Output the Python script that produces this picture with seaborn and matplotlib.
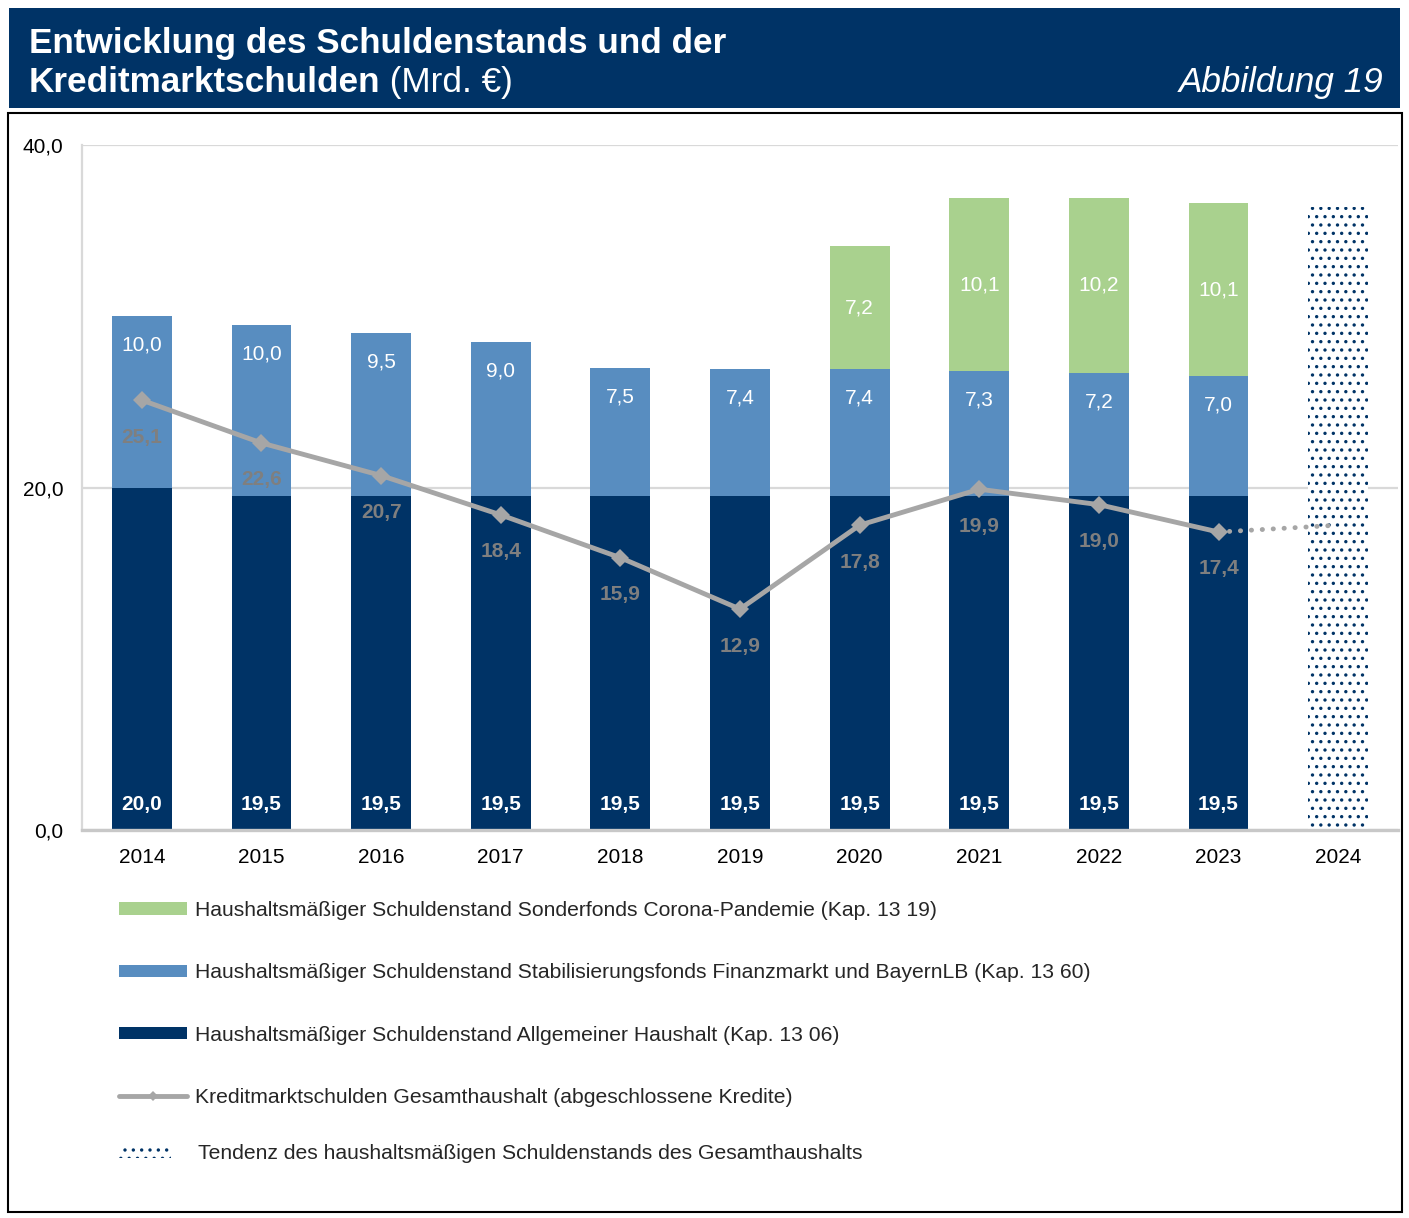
import numpy as np
import pandas as pd
import matplotlib
matplotlib.use("Agg")
import matplotlib.pyplot as plt
import seaborn as sns
from matplotlib.patches import Rectangle, Patch
from matplotlib.lines import Line2D
from matplotlib.ticker import FuncFormatter

# --- data (Mrd. €) ---
years = ["2014", "2015", "2016", "2017", "2018", "2019", "2020", "2021", "2022", "2023", "2024"]
allgemein = [20.0, 19.5, 19.5, 19.5, 19.5, 19.5, 19.5, 19.5, 19.5, 19.5]
stabi = [10.0, 10.0, 9.5, 9.0, 7.5, 7.4, 7.4, 7.3, 7.2, 7.0]
corona = [0.0, 0.0, 0.0, 0.0, 0.0, 0.0, 7.2, 10.1, 10.2, 10.1]
kredit = [25.1, 22.6, 20.7, 18.4, 15.9, 12.9, 17.8, 19.9, 19.0, 17.4]
tendenz_2024 = 36.4
kredit_tendenz_2024 = 17.8

legend_labels = [
    "Haushaltsmäßiger Schuldenstand Sonderfonds Corona-Pandemie (Kap. 13 19)",
    "Haushaltsmäßiger Schuldenstand Stabilisierungsfonds Finanzmarkt und BayernLB (Kap. 13 60)",
    "Haushaltsmäßiger Schuldenstand Allgemeiner Haushalt (Kap. 13 06)",
    "Kreditmarktschulden Gesamthaushalt (abgeschlossene Kredite)",
    "Tendenz des haushaltsmäßigen Schuldenstands des Gesamthaushalts",
]

NAVY = "#003366"
BLUE = "#588DC0"
GREEN = "#A9D18E"
GREY = "#A6A6A6"
LABEL_GREY = "#7F7F7F"

sns.set_theme(style="white")
plt.rcParams["font.family"] = ["Liberation Sans", "DejaVu Sans"]
plt.rcParams["hatch.linewidth"] = 1.2
FS = 15
LFS = 15.2

df = pd.DataFrame({
    "year": years[:10],
    "allgemein": allgemein,
    "stabi": stabi,
    "corona": corona,
    "kredit": kredit,
})
df["level2"] = df["allgemein"] + df["stabi"]
df["total"] = df["level2"] + df["corona"]
fmt = lambda v: f"{v:.1f}".replace(".", ",")

fig = plt.figure(figsize=(14.09, 12.18), dpi=100)
ax = fig.add_axes([82 / 1409, 1 - 830 / 1218, 1316 / 1409, 685 / 1218])

# layered bars (tallest first) to get the stacked look
sns.barplot(data=df, x="year", y="total", order=years, color=GREEN, saturation=1,
            width=0.5, linewidth=0, ax=ax, zorder=2)
sns.barplot(data=df, x="year", y="level2", order=years, color=BLUE, saturation=1,
            width=0.5, linewidth=0, ax=ax, zorder=2)
sns.barplot(data=df, x="year", y="allgemein", order=years, color=NAVY, saturation=1,
            width=0.5, linewidth=0, ax=ax, zorder=2)
# 2024 tendency bar
sns.barplot(x=["2024"], y=[tendenz_2024], order=years, color="white", saturation=1,
            width=0.5, linewidth=0, edgecolor=NAVY, hatch="..", ax=ax, zorder=2)

# Kreditmarktschulden line
xs = np.arange(len(kredit))
sns.lineplot(x=xs, y=kredit, color=GREY, lw=3.5, marker="D", markersize=9,
             markeredgewidth=0, ax=ax, zorder=4)
sns.lineplot(x=[xs[-1], xs[-1] + 1], y=[kredit[-1], kredit_tendenz_2024], color=GREY,
             lw=3.5, ax=ax, zorder=3, linestyle=(0, (0.05, 2.2)), dash_capstyle="round")

# value labels
for i, row in df.iterrows():
    ax.annotate(fmt(row["allgemein"]), (i, 0), xytext=(0, 18.7), textcoords="offset points",
                ha="center", va="center", color="white", fontsize=FS, fontweight="bold", zorder=5)
    ax.annotate(fmt(row["stabi"]), (i, row["level2"]), xytext=(0, -20.9), textcoords="offset points",
                ha="center", va="center", color="white", fontsize=FS, zorder=5)
    if row["corona"] > 0:
        ax.annotate(fmt(row["corona"]), (i, row["level2"] + row["corona"] / 2), ha="center",
                    va="center", color="white", fontsize=FS, zorder=5)
    ax.annotate(fmt(row["kredit"]), (i, row["kredit"]), xytext=(0, -26.6), textcoords="offset points",
                ha="center", va="center", color=LABEL_GREY, fontsize=FS, fontweight="bold", zorder=5)

ax.set_xlim(-0.5, 10.5)
ax.set_ylim(0, 40)
ax.set_yticks([0, 20, 40])
ax.yaxis.set_major_formatter(FuncFormatter(lambda v, p: fmt(v)))
ax.set_xlabel("")
ax.set_ylabel("")
ax.tick_params(axis="both", length=0, labelsize=FS, colors="black")
ax.tick_params(axis="y", pad=13.5)
ax.tick_params(axis="x", pad=13)
ax.set_axisbelow(True)
ax.yaxis.grid(True, color="#D9D9D9", lw=1.6)
for s in ["top", "right"]:
    ax.spines[s].set_visible(False)
ax.spines["left"].set_color("#D9D9D9")
ax.spines["left"].set_linewidth(1.6)
ax.spines["bottom"].set_color("#C8C8C8")
ax.spines["bottom"].set_linewidth(2.4)

# legend
handles = [
    Patch(facecolor=GREEN, edgecolor="none"),
    Patch(facecolor=BLUE, edgecolor="none"),
    Patch(facecolor=NAVY, edgecolor="none"),
    Line2D([], [], color=GREY, lw=3.5, marker="D", markersize=5, markeredgewidth=0),
]
fig.legend(handles, legend_labels[:4], loc="upper left",
           bbox_to_anchor=(119 / 1409, 1 - 901 / 1218),
           frameon=False, fontsize=LFS, handlelength=3.2, handleheight=0.5,
           handletextpad=0.38, labelspacing=2.05, borderpad=0, borderaxespad=0)
hatch_handle = Patch(facecolor="white", edgecolor=NAVY, hatch="..", linewidth=0)
fig.legend([hatch_handle], legend_labels[4:], loc="upper left",
           bbox_to_anchor=(119 / 1409, 1 - 1144 / 1218),
           frameon=False, fontsize=LFS, handlelength=2.45, handleheight=0.55,
           handletextpad=1.3, borderpad=0, borderaxespad=0)

# header band and frame
fig.patches.append(Rectangle((9 / 1409, 1 - 108 / 1218), 1391 / 1409, 100 / 1218,
                             transform=fig.transFigure, facecolor=NAVY, edgecolor="none", zorder=0))
fig.patches.append(Rectangle((8 / 1409, 1 - 1212 / 1218), 1394 / 1409, 1099 / 1218,
                             transform=fig.transFigure, fill=False, edgecolor="black", lw=1.5, zorder=0))

TFS = 25.3
fig.text(29 / 1409, 1 - 43 / 1218, "Entwicklung des Schuldenstands und der", color="white",
         fontsize=TFS, fontweight="bold", va="center", ha="left")
t2 = fig.text(29 / 1409, 1 - 92 / 1218, "Kreditmarktschulden", color="white",
              fontsize=TFS, fontweight="bold", va="baseline", ha="left")
fig.canvas.draw()
bb = t2.get_window_extent()
fig.text(bb.x1 / fig.bbox.width, 1 - 92 / 1218, " (Mrd. €)", color="white",
         fontsize=TFS, va="baseline", ha="left")
fig.text(1383 / 1409, 1 - 92 / 1218, "Abbildung 19", color="white", fontsize=TFS,
         fontstyle="italic", va="baseline", ha="right")

fig.savefig("out.png", dpi=100)
